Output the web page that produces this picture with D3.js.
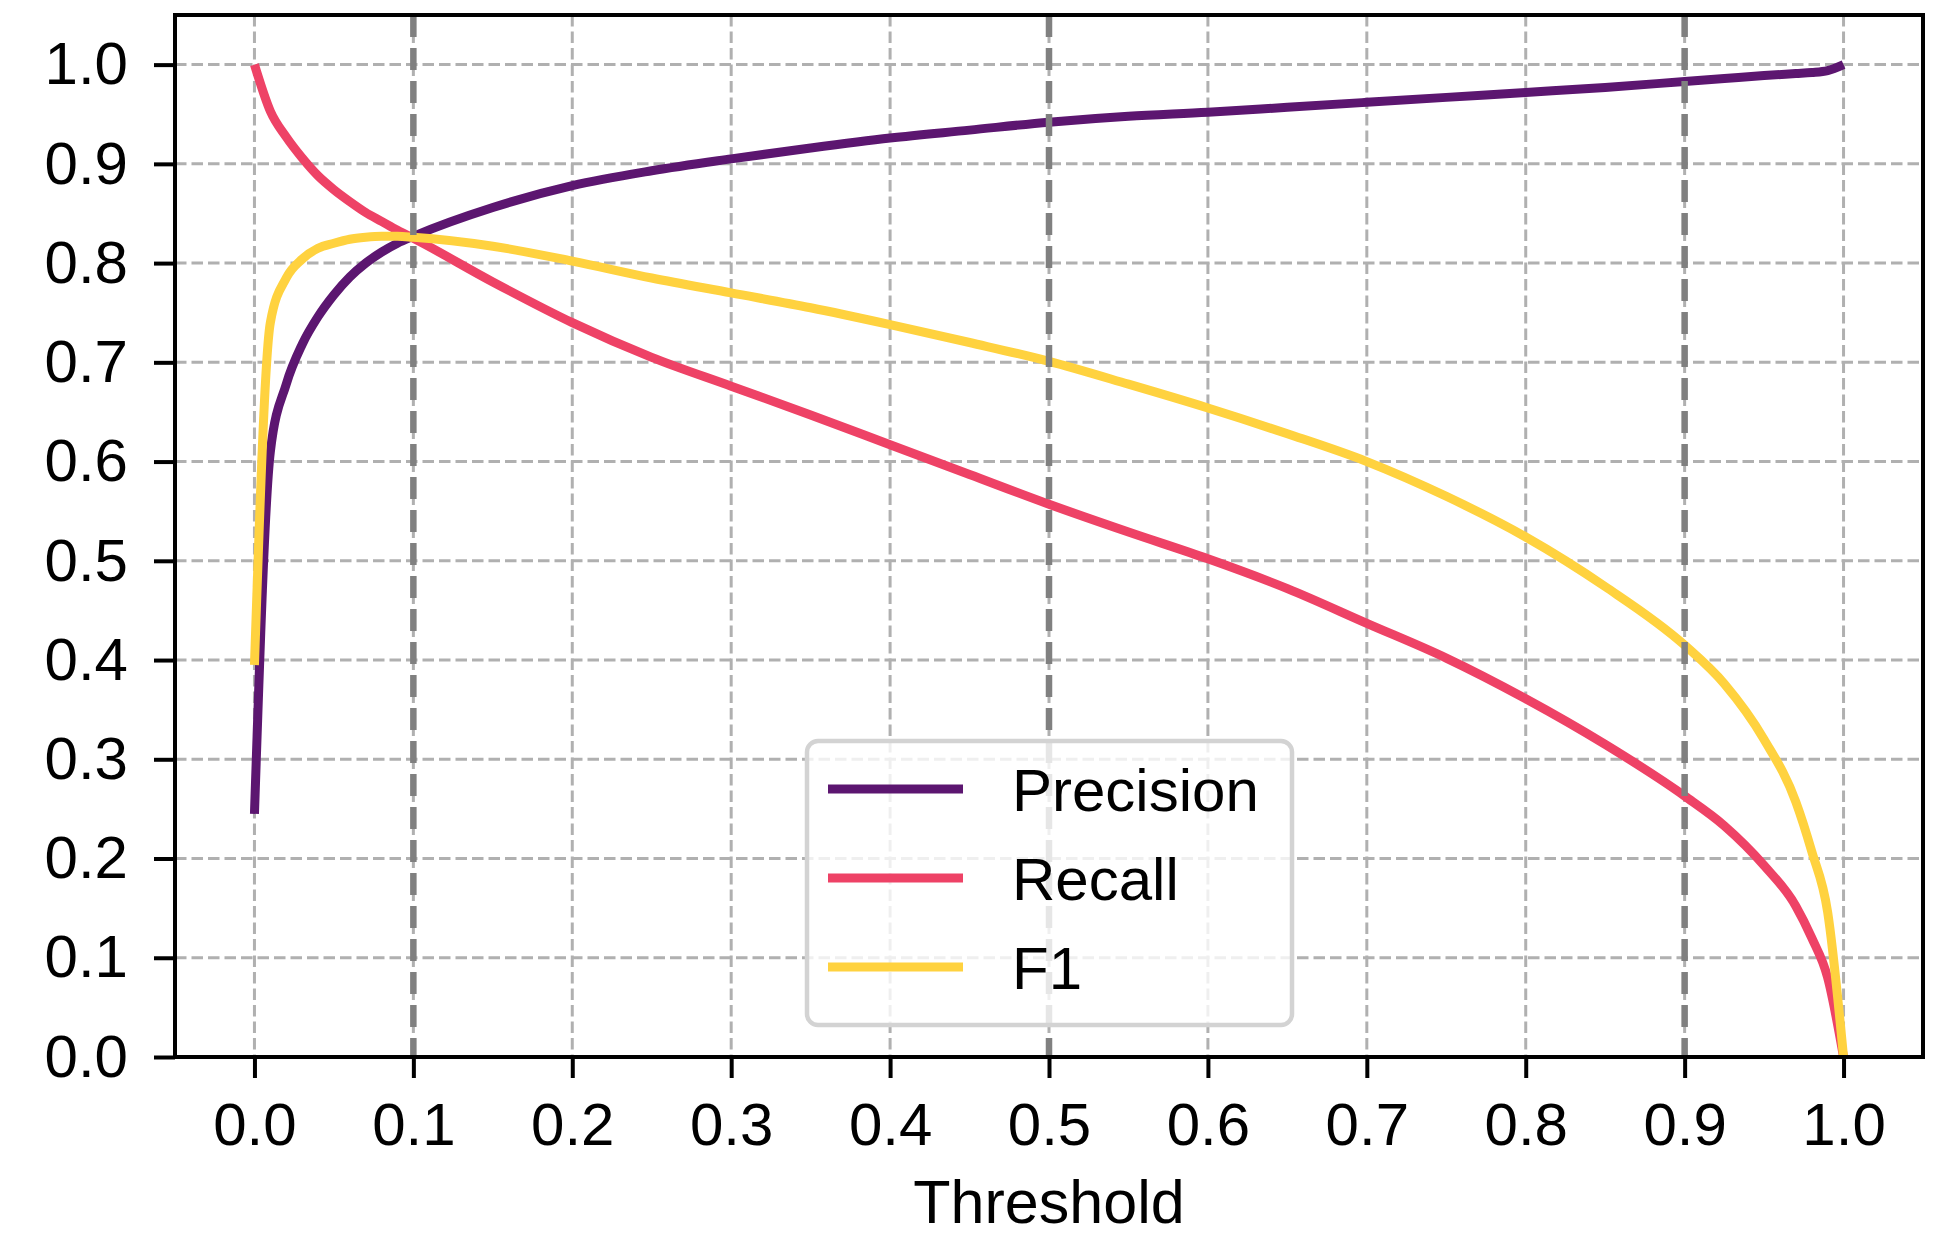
<!DOCTYPE html>
<html>
<head>
<meta charset="utf-8">
<script src="https://cdn.jsdelivr.net/npm/d3@7"></script>
<style>
    body { margin: 0; background: #fff; }
    svg text { font-family: "Liberation Sans", Arial, sans-serif; fill: #000; }
</style>
</head>
<body>
<div id="chart"></div>
<script>

// threshold values the curves were read at
var thresholds = [0, 0.01, 0.02, 0.03, 0.04, 0.05, 0.06, 0.07, 0.08, 0.09, 0.1,
    0.15, 0.2, 0.25, 0.3, 0.35, 0.4, 0.45, 0.5, 0.55, 0.6, 0.65, 0.7, 0.75, 0.8,
    0.85, 0.9, 0.925, 0.95, 0.97, 0.98, 0.99, 1.0];

var precision = [0.245, 0.61, 0.678, 0.718, 0.746, 0.768, 0.786, 0.80, 0.811, 0.82, 0.827,
    0.856, 0.878, 0.893, 0.905, 0.916, 0.926, 0.934, 0.942, 0.948, 0.952, 0.957, 0.962, 0.967, 0.972,
    0.977, 0.983, 0.986, 0.989, 0.991, 0.992, 0.994, 1.0];

var recall = [1.0, 0.953, 0.927, 0.906, 0.888, 0.874, 0.862, 0.851, 0.842, 0.833, 0.825,
    0.781, 0.74, 0.705, 0.676, 0.647, 0.617, 0.587, 0.557, 0.529, 0.502, 0.472, 0.437, 0.402, 0.361,
    0.315, 0.263, 0.233, 0.193, 0.152, 0.12, 0.08, 0.0];

var f1 = [0.395, 0.74, 0.785, 0.804, 0.815, 0.82, 0.824, 0.826, 0.827, 0.827, 0.826,
    0.817, 0.802, 0.785, 0.770, 0.755, 0.738, 0.720, 0.701, 0.678, 0.654, 0.628, 0.60, 0.565, 0.524,
    0.474, 0.415, 0.376, 0.320, 0.257, 0.207, 0.146, 0.0];

var seriesNames = ["Precision", "Recall", "F1"];
var seriesColors = ["#5c1670", "#ee4266", "#ffd23f"];
var tickValues = [0, 0.1, 0.2, 0.3, 0.4, 0.5, 0.6, 0.7, 0.8, 0.9, 1.0];
var markedThresholds = [0.1, 0.5, 0.9];

var width = 1942, height = 1237;
var margin = { top: 15, right: 19, bottom: 180, left: 175 };
var w = width - margin.left - margin.right;
var h = height - margin.top - margin.bottom;

var svg = d3.select("#chart").append("svg")
    .attr("width", width)
    .attr("height", height)
    .append("g")
    .attr("transform", "translate(" + margin.left + "," + margin.top + ")");

var x = d3.scaleLinear().domain([-0.05, 1.05]).range([0, w]);
var y = d3.scaleLinear().domain([0, 1.05]).range([h, 0]);

// grid
svg.append("g").selectAll("line.vgrid")
    .data(tickValues).enter().append("line")
    .attr("x1", function(d){ return x(d); })
    .attr("x2", function(d){ return x(d); })
    .attr("y1", 0).attr("y2", h)
    .attr("stroke", "#b0b0b0").attr("stroke-width", 3)
    .attr("stroke-dasharray", "11.5,5");

svg.append("g").selectAll("line.hgrid")
    .data(tickValues).enter().append("line")
    .attr("y1", function(d){ return y(d); })
    .attr("y2", function(d){ return y(d); })
    .attr("x1", 0).attr("x2", w)
    .attr("stroke", "#b0b0b0").attr("stroke-width", 3)
    .attr("stroke-dasharray", "11.5,5");

// curves
var series = [precision, recall, f1].map(function(vals, i){
    return { name: seriesNames[i], color: seriesColors[i],
        values: thresholds.map(function(t, j){ return { t: t, v: vals[j] }; }) };
});

var line = d3.line()
    .x(function(d){ return x(d.t); })
    .y(function(d){ return y(d.v); })
    .curve(d3.curveMonotoneX);

svg.append("g").selectAll("path")
    .data(series).enter().append("path")
    .attr("d", function(d){ return line(d.values); })
    .attr("fill", "none")
    .attr("stroke", function(d){ return d.color; })
    .attr("stroke-width", 9)
    .attr("stroke-linejoin", "round");

// thick dashed markers at chosen thresholds (drawn on top of curves)
svg.append("g").selectAll("line")
    .data(markedThresholds).enter().append("line")
    .attr("x1", function(d){ return x(d); })
    .attr("x2", function(d){ return x(d); })
    .attr("y1", 0).attr("y2", h)
    .attr("stroke", "#808080").attr("stroke-width", 6.5)
    .attr("stroke-dasharray", "22,11");

// axes
var fmt = d3.format(".1f");

var xAxis = svg.append("g")
    .attr("transform", "translate(0," + h + ")")
    .call(d3.axisBottom(x).tickValues(tickValues).tickFormat(fmt)
        .tickSize(21).tickSizeOuter(0).tickPadding(24));

var yAxis = svg.append("g")
    .call(d3.axisLeft(y).tickValues(tickValues).tickFormat(fmt)
        .tickSize(21).tickSizeOuter(0).tickPadding(26));

[xAxis, yAxis].forEach(function(ax){
    ax.select(".domain").remove();
    ax.selectAll(".tick line").attr("stroke", "#000").attr("stroke-width", 4);
    ax.selectAll(".tick text").style("font-size", "60px").attr("fill", "#000");
});

// frame
svg.append("rect")
    .attr("x", 0).attr("y", 0)
    .attr("width", w).attr("height", h)
    .attr("fill", "none")
    .attr("stroke", "#000")
    .attr("stroke-width", 4);

svg.append("text")
    .attr("x", w / 2)
    .attr("y", 1223 - margin.top)
    .attr("text-anchor", "middle")
    .style("font-size", "61px")
    .text("Threshold");

// legend
var legend = svg.append("g")
    .attr("transform", "translate(" + (807 - margin.left) + "," + (741 - margin.top) + ")");

legend.append("rect")
    .attr("width", 485).attr("height", 284)
    .attr("rx", 11).attr("ry", 11)
    .attr("fill", "#fff").attr("fill-opacity", 0.8)
    .attr("stroke", "#d3d3d3").attr("stroke-width", 4.5);

var items = legend.selectAll("g.item")
    .data(series).enter().append("g")
    .attr("class", "item")
    .attr("transform", function(d, i){ return "translate(0," + (48 + i * 89) + ")"; });

items.append("line")
    .attr("x1", 21).attr("x2", 156)
    .attr("stroke", function(d){ return d.color; })
    .attr("stroke-width", 9);

items.append("text")
    .attr("x", 205)
    .attr("y", 22)
    .style("font-size", "60px")
    .text(function(d){ return d.name; });

</script>
</body>
</html>
